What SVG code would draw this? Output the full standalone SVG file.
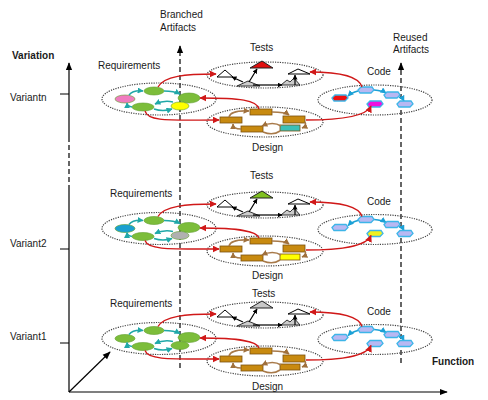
<svg xmlns="http://www.w3.org/2000/svg" width="488" height="400" viewBox="0 0 488 400">
<style>
.dot{fill:none;stroke:#444;stroke-width:1.2;stroke-dasharray:1.2 1.2}
.lbl{font-family:"Liberation Sans",Arial,sans-serif;font-size:10px;fill:#1a1a1a}
.b{font-weight:bold}
.red{fill:none;stroke:#D01818;stroke-width:1.3;marker-end:url(#mr)}
.teal{fill:none;stroke:#20A8A8;stroke-width:1.5;marker-end:url(#mt)}
.brn{fill:none;stroke:#A87A4A;stroke-width:1.6;marker-end:url(#mb)}
.brn2{fill:none;stroke:#A87A4A;stroke-width:1.6}
.blu{fill:none;stroke:#1BA1D6;stroke-width:1.6;marker-end:url(#mbl)}
.blk{fill:none;stroke:#000;stroke-width:1.2;marker-end:url(#mk)}
.g{fill:#7CBD3A;stroke:#5E9E2A;stroke-width:.6}
.va{fill:var(--a);stroke:#5E9E2A;stroke-width:.6}
.vb{fill:var(--b);stroke:#5E9E2A;stroke-width:.6}
.rc{fill:#C88A10;stroke:#7A5010;stroke-width:.8}
.ve{fill:var(--e);stroke:#7A5010;stroke-width:.8}
.hex{stroke:#3DB5E8;stroke-width:1.3;fill:#B8B8F2}
.axis{fill:none;stroke:#000;stroke-width:1.2}
.dash{fill:none;stroke:#000;stroke-width:1.2;stroke-dasharray:5 3}
</style>
<defs>
<marker id="mr" viewBox="0 0 10 10" refX="9" refY="5" markerWidth="7" markerHeight="7" markerUnits="userSpaceOnUse" orient="auto"><path d="M0,0 L10,5 L0,10z" fill="#D01818"/></marker>
<marker id="mt" viewBox="0 0 10 10" refX="9" refY="5" markerWidth="6" markerHeight="6" markerUnits="userSpaceOnUse" orient="auto"><path d="M0,0 L10,5 L0,10z" fill="#20A8A8"/></marker>
<marker id="mb" viewBox="0 0 10 10" refX="9" refY="5" markerWidth="6" markerHeight="6" markerUnits="userSpaceOnUse" orient="auto"><path d="M0,0 L10,5 L0,10z" fill="#A0703C"/></marker>
<marker id="mbl" viewBox="0 0 10 10" refX="9" refY="5" markerWidth="6" markerHeight="6" markerUnits="userSpaceOnUse" orient="auto"><path d="M0,0 L10,5 L0,10z" fill="#1BA1D6"/></marker>
<marker id="mk" viewBox="0 0 10 10" refX="9" refY="5" markerWidth="5" markerHeight="5" markerUnits="userSpaceOnUse" orient="auto"><path d="M0,0 L10,5 L0,10z" fill="#000"/></marker>
<marker id="ma" viewBox="0 0 10 10" refX="9" refY="5" markerWidth="8" markerHeight="8" markerUnits="userSpaceOnUse" orient="auto"><path d="M0,1 L10,5 L0,9z" fill="#000"/></marker>
<polygon id="hx" points="-8,0 -5,-3 6,-3 8,0 5,3 -6,3"/>
<g id="reqc">
<ellipse rx="57" ry="16" class="dot"/>
<ellipse cx="-34" cy="0" rx="10" ry="4" class="va"/>
<ellipse cx="-5" cy="-8" rx="10" ry="4" class="g"/>
<ellipse cx="30" cy="-1" rx="11" ry="5" class="g"/>
<ellipse cx="-16" cy="8" rx="11" ry="4" class="g"/>
<ellipse cx="21" cy="7" rx="9" ry="4" class="vb"/>
<path class="teal" d="M-30,-4 Q-26,-9 -16,-8"/>
<path class="teal" d="M5,-8 Q15,-8 21,-5"/>
<path class="teal" d="M14,3 Q5,1 -4,5"/>
<path class="teal" d="M-27,8 Q-32,7 -32,4"/>
<path class="teal" d="M-5,10 Q4,13 13,10"/>
</g>
<g id="testc">
<ellipse rx="58" ry="13" class="dot"/>
<polygon points="-48,2 -40,-5 -32,2" fill="#fff" stroke="#000" stroke-width="1"/>
<polygon points="-28,11 -17,6 -5,11" fill="#ccc" stroke="#333" stroke-width="1"/>
<polygon points="16,10 22,5 25,7 29,3 35,10" fill="#ccc" stroke="#333" stroke-width="1"/>
<polygon points="23,-1 33,-6 45,-1" fill="#fff" stroke="#000" stroke-width="1"/>
<polygon points="-15,-7 -3,-14 8,-7" style="fill:var(--t)" stroke="#222" stroke-width="1"/>
<path class="blk" d="M-12,10 H17"/>
<path class="blk" d="M30,10 V0"/>
<path class="blk" d="M-16,7 L-8,-6"/>
<path class="blk" d="M-22,7 L-33,2"/>
</g>
<g id="desc">
<ellipse rx="58" ry="15" class="dot"/>
<rect x="-45" y="-5" width="22" height="6" class="rc"/>
<rect x="-15" y="-13" width="22" height="6" class="rc"/>
<rect x="18" y="-6" width="22" height="7" class="rc"/>
<rect x="-24" y="4" width="22" height="6" class="rc"/>
<rect x="15" y="3" width="20" height="6" class="ve"/>
<path class="brn" d="M-36,-5 Q-34,-12 -16,-11"/>
<path class="brn" d="M7,-10 Q20,-10 24,-7"/>
<path class="brn" d="M40,0 Q42,4 37,6"/>
<path class="brn" d="M16,4 Q8,-1 -3,4"/>
<path class="brn2" d="M15,9 Q8,14 -2,10"/>
<path class="brn" d="M-24,7 Q-32,7 -32,2"/>
</g>
<g id="codec">
<ellipse rx="57" ry="15" class="dot"/>
<path class="blu" d="M-17,-9 Q-24,-7 -27,-4"/>
<path class="blu" d="M-1,-10 Q8,-9 11,-7"/>
<path class="blu" d="M24,-3 Q28,-1 29,1"/>
<use href="#hx" x="-35" y="-2" class="hex" style="fill:var(--l)"/>
<use href="#hx" x="-9" y="-10" class="hex"/>
<use href="#hx" x="17" y="-5" class="hex"/>
<use href="#hx" x="30" y="4" class="hex"/>
<use href="#hx" x="0" y="4" class="hex" style="fill:var(--m)"/>
</g>
</defs>
<rect width="488" height="400" fill="#fff"/>

<g id="axes">
<path class="axis" d="M69,392 V190" />
<path class="dash" d="M69,190 V140"/>
<path class="axis" d="M69,140 V63" marker-end="url(#ma)"/>
<path class="axis" d="M69,392 H447" marker-end="url(#ma)"/>
<path class="axis" d="M69,392 L110,352" marker-end="url(#ma)"/>
<path class="axis" d="M60,94 H69 M60,249 H69 M60,343 H69"/>
<path class="dash" d="M180,368 V46" marker-end="url(#ma)"/>
<path class="dash" d="M401,363 V63" marker-end="url(#ma)"/>
<text class="lbl b" x="12" y="59">Variation</text>
<text class="lbl" x="10" y="100.5">Variantn</text>
<text class="lbl" x="10" y="246.5">Variant2</text>
<text class="lbl" x="10" y="339.5">Variant1</text>
<text class="lbl b" x="432" y="364.5">Function</text>
<text class="lbl" x="160" y="17.5">Branched</text>
<text class="lbl" x="160" y="30.5">Artifacts</text>
<text class="lbl" x="393" y="40.5">Reused</text>
<text class="lbl" x="393" y="52.5">Artifacts</text>
</g>

<g id="req-n"><use href="#reqc" x="159" y="99" style="--a:#F07CC0;--b:#FFFF00"/><text class="lbl" x="98" y="68.5">Requirements</text></g>
<g id="tests-n"><use href="#testc" x="265" y="75" style="--t:#E01010"/><text class="lbl" x="250" y="50.5">Tests</text></g>
<g id="design-n"><use href="#desc" x="265" y="122" style="--e:#3CC0B8"/><text class="lbl" x="252" y="150.5">Design</text></g>
<g id="code-n"><use href="#codec" x="375" y="100" style="--l:#F01010;--m:#F010E0"/><text class="lbl" x="367" y="74.5">Code</text></g>

<g id="req-2"><use href="#reqc" x="159" y="228.5" style="--a:#1AA0D0;--b:#B0B0B0"/><text class="lbl" x="110" y="196.5">Requirements</text></g>
<g id="tests-2"><use href="#testc" x="265" y="205" style="--t:#80C020"/><text class="lbl" x="250" y="178.5">Tests</text></g>
<g id="design-2"><use href="#desc" x="265" y="251" style="--e:#FFFF00"/><text class="lbl" x="252" y="278.5">Design</text></g>
<g id="code-2"><use href="#codec" x="375" y="229.5" style="--l:#B8B8F2;--m:#F0F020"/><text class="lbl" x="367" y="204.5">Code</text></g>

<g id="req-1"><use href="#reqc" x="159" y="338.5" style="--a:#7CBD3A;--b:#7CBD3A"/><text class="lbl" x="110" y="306.5">Requirements</text></g>
<g id="tests-1"><use href="#testc" x="265" y="315" style="--t:#C8C8C8"/><text class="lbl" x="252" y="296.5">Tests</text></g>
<g id="design-1"><use href="#desc" x="265" y="361" style="--e:#C88A10"/><text class="lbl" x="252" y="389.5">Design</text></g>
<g id="code-1"><use href="#codec" x="375" y="339.5" style="--l:#B8B8F2;--m:#B8B8F2"/><text class="lbl" x="367" y="314.5">Code</text></g>

<g id="connectors">
<path class="red" d="M158,87 C164,76 185,74 216,74"/>
<path class="red" d="M259,109 C257,100 240,98 200,98"/>
<path class="red" d="M145,111 C148,122 170,120 219,120"/>
<path class="red" d="M362,87 C359,76 340,72 310,72"/>
<path class="red" d="M306,120 C340,120 366,117 371,106"/>

<path class="red" d="M158,216.5 C164,206 185,204 216,204"/>
<path class="red" d="M259,238 C257,231 240,228 200,228"/>
<path class="red" d="M145,240.5 C148,250 170,249 219,249"/>
<path class="red" d="M362,216.5 C359,206 340,202 310,202"/>
<path class="red" d="M306,250 C340,250 366,247 371,235.5"/>

<path class="red" d="M158,326.5 C164,316 185,314 216,314"/>
<path class="red" d="M259,348 C257,341 240,338 200,338"/>
<path class="red" d="M145,350.5 C148,360 170,359 219,359"/>
<path class="red" d="M362,326.5 C359,316 340,312 310,312"/>
<path class="red" d="M306,360 C340,360 366,357 371,345.5"/>
</g>
</svg>
